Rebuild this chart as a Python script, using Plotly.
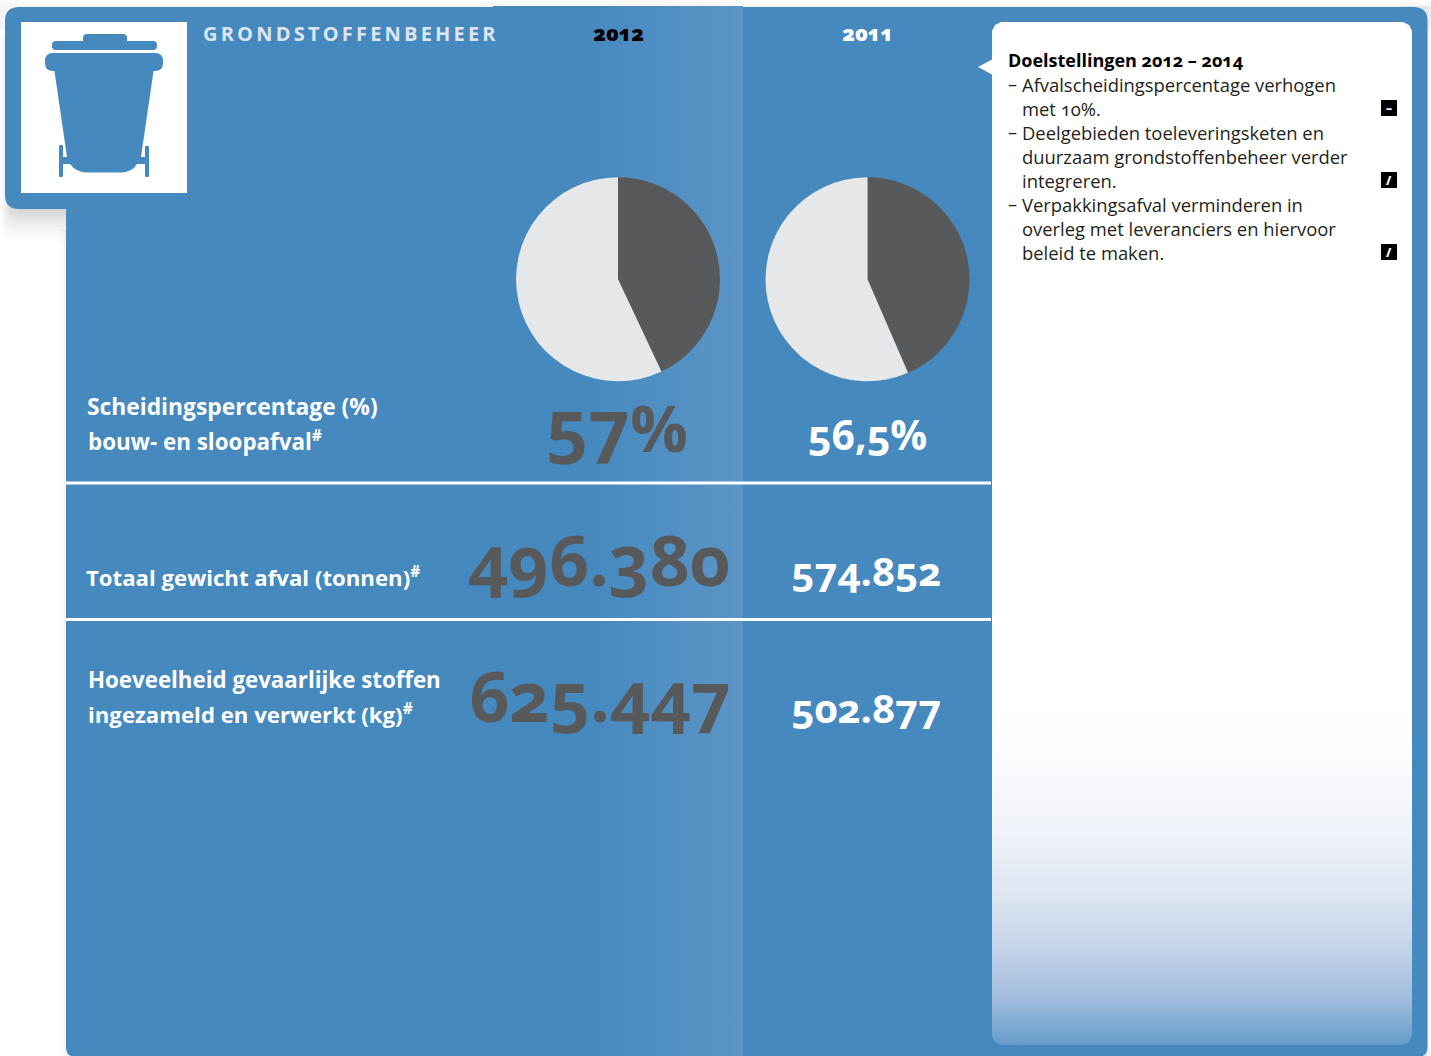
import plotly.graph_objects as go

W, H = 1431, 1056
BLUE = "#4589bf"
DARK = "#58595b"
LIGHT = "#e6e7e8"

years = ["2012", "2011"]
pie_dark = [43.0, 43.5]
pie_light = [57.0, 56.5]
sep_values = ["57", "56,5"]
total_labels = ["496.380", "574.852"]
hazard_labels = ["625.447", "502.877"]
row_labels = [
    ["Scheidingspercentage (%)", "bouw- en sloopafval<sup>#</sup>"],
    ["Totaal gewicht afval (tonnen)<sup>#</sup>"],
    ["Hoeveelheid gevaarlijke stoffen", "ingezameld en verwerkt (kg)<sup>#</sup>"],
]
goal_title = "Doelstellingen 2012 – 2014"
goal_lines = [
    "–", "Afvalscheidingspercentage verhogen", "met 10%.",
    "–", "Deelgebieden toeleveringsketen en", "duurzaam grondstoffenbeheer verder", "integreren.",
    "–", "Verpakkingsafval verminderen in", "overleg met leveranciers en hiervoor", "beleid te maken.",
]
badges = ["–", "/", "/"]

FONT = "Open Sans"
fig = go.Figure()

def rrect(x0, y0, x1, y1, tl=0, tr=0, br=0, bl=0):
    return (f"M{x0+tl},{y0} L{x1-tr},{y0} Q{x1},{y0} {x1},{y0+tr} L{x1},{y1-br} Q{x1},{y1} {x1-br},{y1} "
            f"L{x0+bl},{y1} Q{x0},{y1} {x0},{y1-bl} L{x0},{y0+tl} Q{x0},{y0} {x0+tl},{y0} Z")

shapes = []
def add_path(path, color, layer="below", opacity=None):
    s = dict(type="path", path=path, fillcolor=color, line=dict(width=0), layer=layer, xref="x", yref="y")
    if opacity is not None:
        s["opacity"] = opacity
    shapes.append(s)

# soft shadows round the card
for g, a in zip((36, 31, 26, 22, 18, 14, 10, 6), (0.02, 0.025, 0.03, 0.03, 0.035, 0.035, 0.04, 0.04)):
    add_path(rrect(11 - g / 3.5, 30, 90, 205 + g, 14, 0, 0, 14), "#55565a", opacity=a)
for i, a in enumerate([0.012, 0.015, 0.018, 0.02]):
    add_path(rrect(0, 6 - 2 * i, W, 30), "#6d6e71", opacity=a)
    add_path(rrect(60 + i * 1.5, 230, 80, H), "#6d6e71", opacity=a)
    add_path(rrect(1400, 6, 1431 - i, H), "#6d6e71", opacity=a + 0.01)

# card
add_path(rrect(5, 7, 500, 209, 14, 0, 0, 14), BLUE)
add_path(rrect(66, 7, 1427.5, H + 1, 0, 14, 10, 10), BLUE)

# 2012 column highlight
fig.add_trace(go.Scatter(
    x=[493, 743, 743, 493, 493], y=[6, 6, H + 1, H + 1, 6], mode="lines", line=dict(width=0),
    fill="toself", hoverinfo="skip", showlegend=False,
    fillgradient=dict(type="horizontal", colorscale=[[0, BLUE], [0.36, BLUE], [1, "#5c95c6"]]),
))

# objectives panel with fade to blue
px0, py0, px1, py1, r = 992, 22, 1412, 1045, 9
panel_x = [px0 + r, px1 - r, px1 - 3, px1, px1, px1 - 3, px1 - r, px0 + r, px0 + 3, px0, px0, px0 + 3, px0 + r]
panel_y = [py0, py0, py0 + 3, py0 + r, py1 - r, py1 - 3, py1, py1, py1 - 3, py1 - r, py0 + r, py0 + 3, py0]
span = py1 - py0
stop = lambda y: (py1 - y) / span   # plotly measures the gradient from the lower edge of the picture
panel_stops = [(700, "#ffffff"), (760, "#fbfcfe"), (830, "#f0f3fa"), (900, "#dbe4f0"),
               (950, "#c2d2e8"), (1000, "#9fbbdc"), (1025, "#7faad2")]
fig.add_trace(go.Scatter(
    x=panel_x, y=panel_y, mode="lines", line=dict(width=0), fill="toself",
    hoverinfo="skip", showlegend=False,
    fillgradient=dict(type="vertical", colorscale=[[0, "#659bc8"]] + [[stop(y), c] for y, c in reversed(panel_stops)] + [[1, "#ffffff"]]),
))
add_path("M978,67 L993,59 L993,75 Z", "#ffffff", layer="above")

# separators
for y in (483, 619.5):
    shapes.append(dict(type="line", x0=66, x1=991, y0=y, y1=y, line=dict(color="#ffffff", width=3),
                       layer="above", xref="x", yref="y"))

# icon
add_path("M21,22 H187 V193 H21 Z", "#ffffff", layer="above")
add_path(rrect(83, 34, 127, 44, 4, 4, 0, 0), BLUE, layer="above")
add_path(rrect(52, 41, 157, 50, 4, 4, 4, 4), BLUE, layer="above")
add_path(rrect(45, 53, 163, 71, 8, 8, 8, 8), BLUE, layer="above")
add_path("M54,68 L154,68 L141,157 L146,157 L146,164 L137,164 Q132,172 122,172.5 L86,172.5 Q76,172 70,164 "
         "L62,164 L62,157 L67,157 Z", BLUE, layer="above")
add_path(rrect(59, 145, 63, 177, 1, 1, 1, 1), BLUE, layer="above")
add_path(rrect(145, 146, 149, 177, 1, 1, 1, 1), BLUE, layer="above")

# badges
for y in (100, 172, 244):
    add_path(f"M1381,{y} H1397 V{y+16} H1381 Z", "#000000", layer="above")

# pies
domains = [(516, 720), (765.5, 969.5)]
for (x0, x1), d, l, yr in zip(domains, pie_dark, pie_light, years):
    fig.add_trace(go.Pie(
        values=[d, l], labels=["rest", "gescheiden"], sort=False, direction="clockwise", rotation=0,
        marker=dict(colors=[DARK, LIGHT], line=dict(width=0)), textinfo="none", hoverinfo="skip",
        showlegend=False, name=yr,
        domain=dict(x=[x0 / W, x1 / W], y=[1 - 381.5 / H, 1 - 177 / H]),
    ))

ann = []
def T(x, y, text, size, color, weight=400, anchor="left"):
    ann.append(dict(x=x, y=y, xref="x", yref="y", text=text, showarrow=False, xanchor=anchor, yanchor="middle",
                    align=anchor, font=dict(family=FONT, size=size, color=color, weight=weight),
                    borderpad=0, borderwidth=0))

T(203, 33, "<span style='letter-spacing:3.2px'>GRONDSTOFFENBEHEER</span>", 20, "#dde5f1", 700)
T(618, 33, years[0], 21, "#000000", 800, "center")
T(867, 33, years[1], 21, "#ffffff", 800, "center")

T(87, 406, row_labels[0][0], 22.8, "#ffffff", 700)
T(88, 440, row_labels[0][1], 22.4, "#ffffff", 700)
T(86, 576, row_labels[1][0], 22.2, "#ffffff", 700)
T(88, 679, row_labels[2][0], 22.3, "#ffffff", 700)
T(88, 713, row_labels[2][1], 22.2, "#ffffff", 700)

T(546, 423, sep_values[0] + "<span style='font-size:64px'>%</span>", 73, DARK, 700)
T(867.5, 434, sep_values[1] + "%", 41, "#ffffff", 700, "center")
T(599, 559, total_labels[0], 70, DARK, 700, "center")
T(866, 570, total_labels[1], 40, "#ffffff", 700, "center")
T(600, 694.5, hazard_labels[0], 70, DARK, 700, "center")
T(866, 707, hazard_labels[1], 40, "#ffffff", 700, "center")

T(1008, 60, goal_title, 18, "#000000", 700)
y = 84
for line in goal_lines:
    if line == "–":
        T(1008, y, line, 18, "#231f20")
    else:
        T(1022, y, line, 18.4, "#231f20")
        y += 24
for b, yy in zip(badges, (108, 180, 252)):
    T(1389, yy, b, 12, "#ffffff", 800, "center")

fig.update_layout(
    width=W, height=H, margin=dict(l=0, r=0, t=0, b=0, autoexpand=False),
    paper_bgcolor="#ffffff", plot_bgcolor="rgba(0,0,0,0)",
    xaxis=dict(range=[0, W], visible=False, fixedrange=True),
    yaxis=dict(range=[H, 0], visible=False, fixedrange=True),
    shapes=shapes, annotations=ann,
)
fig.write_html("out.html", config=dict(displayModeBar=False), post_script=
    "document.body.style.margin='0';document.documentElement.style.overflow='hidden';"
    "var s=document.createElement('style');s.textContent='text{font-variant-numeric:oldstyle-nums;font-feature-settings:\"onum\" 1}';document.head.appendChild(s);")
